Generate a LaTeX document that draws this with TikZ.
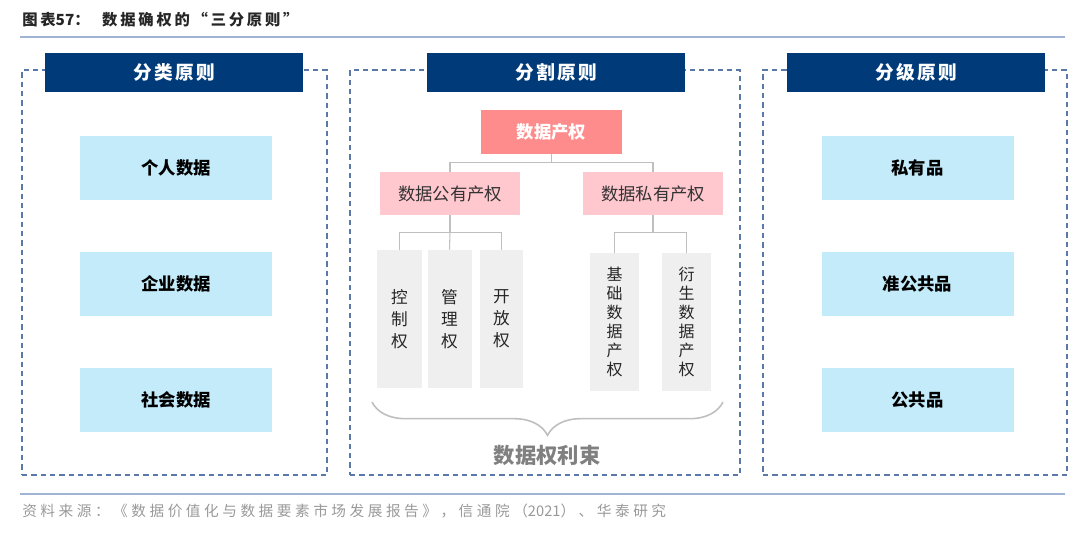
\documentclass[tikz,border=0pt]{standalone}
\usepackage{fontspec}
\setmainfont{Noto Sans CJK SC}
\usetikzlibrary{decorations.pathreplacing,calc}
\definecolor{navy}{HTML}{003A78}
\definecolor{lblue}{HTML}{C4EBF9}
\definecolor{dpink}{HTML}{FF8C8C}
\definecolor{lpink}{HTML}{FFC7CE}
\definecolor{lgray}{HTML}{EFEFEF}
\definecolor{dashc}{HTML}{5B79A8}
\definecolor{rulec}{HTML}{9FB4D2}
\definecolor{conn}{HTML}{BFBFBF}
\newcommand{\nosp}[1]{{\addfontfeature{LetterSpace=0}#1}}
\begin{document}
\begin{tikzpicture}[x=0.75pt,y=-0.75pt,
  panel/.style={draw=dashc,line width=1.2pt,dash pattern=on 4pt off 3pt,minimum width=#1*0.75pt,minimum height=405*0.75pt,inner sep=0pt},
  header/.style={fill=navy,text=white,minimum width=258*0.75pt,minimum height=39*0.75pt,inner sep=0pt,font=\fontsize{14}{16}\selectfont\bfseries\addfontfeature{LetterSpace=12}},
  bluebox/.style={fill=lblue,minimum width=192*0.75pt,minimum height=64*0.75pt,inner sep=0pt,font=\fontsize{13}{15}\selectfont\bfseries},
  topbox/.style={fill=dpink,text=white,minimum width=141*0.75pt,minimum height=44*0.75pt,inner sep=0pt,font=\fontsize{13}{15}\selectfont\bfseries},
  midbox/.style={fill=lpink,text=black!80,minimum width=140*0.75pt,minimum height=43*0.75pt,inner sep=0pt,font=\fontsize{13}{15}\selectfont},
  vbox/.style={fill=lgray,text=black!85,minimum width=#1*0.75pt,minimum height=138*0.75pt,inner sep=0pt,align=center},
  connector/.style={draw=conn,line width=0.8pt}
]
\useasboundingbox (0,0) rectangle (1080,536);
% title
\node[anchor=west,font=\fontsize{11.5}{13}\selectfont\bfseries\addfontfeature{LetterSpace=18},text=black!85,inner sep=0pt] (title) at (22,20) {图表\nosp{57}：\ \ 数据确权的“三分原则”};
\draw[rulec,line width=1.2pt] (20,37) -- (1065,37);
% panels
\node[panel=305] (p1) at (174.5,272.5) {};
\node[panel=390] (p2) at (545,272.5) {};
\node[panel=304] (p3) at (915,272.5) {};
\node[header] (h1) at (174,72.5) {分类原则};
\node[header] (h2) at (556,72.5) {分割原则};
\node[header] (h3) at (916,72.5) {分级原则};
% left column
\node[bluebox] (l1) at (176,168) {个人数据};
\node[bluebox] (l2) at (176,284) {企业数据};
\node[bluebox] (l3) at (176,400) {社会数据};
% right column
\node[bluebox] (r1) at (917.5,168) {私有品};
\node[bluebox] (r2) at (917.5,284) {准公共品};
\node[bluebox] (r3) at (917.5,400) {公共品};
% middle tree
\node[topbox] (dc) at (551.5,132) {数据产权};
\node[midbox] (gy) at (450,193.5) {数据公有产权};
\node[midbox] (sy) at (653,193.5) {数据私有产权};
\node[vbox=45,font=\fontsize{12.5}{16.5}\selectfont] (k1) at (399.5,319) {控\\制\\权};
\node[vbox=44,font=\fontsize{12.5}{16.5}\selectfont] (k2) at (449.5,319) {管\\理\\权};
\node[vbox=43,font=\fontsize{12.5}{16.5}\selectfont] (k3) at (501.5,319) {开\\放\\权};
\node[vbox=49,font=\fontsize{12}{14.2}\selectfont] (j1) at (614.5,322) {基\\础\\数\\据\\产\\权};
\node[vbox=49,font=\fontsize{12}{14.2}\selectfont] (j2) at (686.5,322) {衍\\生\\数\\据\\产\\权};
\draw[connector] (dc.south) -- ++(0,8) coordinate (t1);
\draw[connector] (t1) -| (gy.north);
\draw[connector] (t1) -| (sy.north);
\draw[connector] (gy.south) -- ++(0,17) coordinate (t2);
\draw[connector] (t2) -| (k1.north);
\draw[connector] (t2) -| (k3.north);
\draw[connector] (t2) -- (k2.north);
\draw[connector] (sy.south) -- ++(0,17) coordinate (t3);
\draw[connector] (t3) -| (j1.north);
\draw[connector] (t3) -| (j2.north);
% brace
\coordinate (b1) at (372,402);
\coordinate (b2) at (723,402);
\draw[conn,line width=1.2pt,decorate,decoration={brace,mirror,amplitude=25pt,aspect=0.5}] (b1) -- (b2);
\node[font=\fontsize{16}{18}\selectfont\bfseries,text=black!50] (bund) at (547,455) {数据权利束};
% bottom
\draw[rulec,line width=1.2pt] (20,494) -- (1065,494);
\node[anchor=west,font=\fontsize{11}{12}\selectfont\addfontfeature{LetterSpace=24},text=black!40,inner sep=0pt] (src) at (22,511) {资料来源：《数据价值化与数据要素市场发展报告》，信通院（\nosp{2021}）、华泰研究};
\end{tikzpicture}
\end{document}
